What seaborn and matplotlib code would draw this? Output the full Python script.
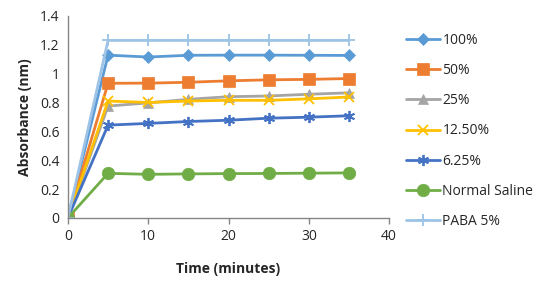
import pandas as pd
import seaborn as sns
import matplotlib.pyplot as plt
from matplotlib.ticker import FuncFormatter

# time points (minutes)
time = [0, 5, 10, 15, 20, 25, 30, 35]

# absorbance readings per concentration
abs_100 = [0, 1.128, 1.115, 1.127, 1.128, 1.128, 1.127, 1.126]
abs_50 = [0, 0.933, 0.934, 0.940, 0.950, 0.957, 0.960, 0.966]
abs_25 = [0, 0.775, 0.797, 0.822, 0.840, 0.845, 0.857, 0.867]
abs_12_5 = [0, 0.810, 0.800, 0.810, 0.815, 0.815, 0.825, 0.838]
abs_6_25 = [0, 0.643, 0.655, 0.668, 0.677, 0.691, 0.698, 0.708]
abs_saline = [0, 0.309, 0.302, 0.305, 0.307, 0.308, 0.310, 0.312]
abs_paba = [0, 1.230, 1.230, 1.230, 1.230, 1.230, 1.230, 1.230]

labels = ["100%", "50%", "25%", "12.50%", "6.25%", "Normal Saline", "PABA 5%"]
series = [abs_100, abs_50, abs_25, abs_12_5, abs_6_25, abs_saline, abs_paba]

colors = ["#5B9BD5", "#ED7D31", "#A5A5A5", "#FFC000", "#4472C4", "#70AD47", "#9DC3E6"]
markers = ["D", "s", "^", "x", (6, 2, 0), "o", "+"]
msizes = [6, 9, 7, 7, 8, 9, 9]

frames = []
for lab, vals in zip(labels, series):
    frames.append(pd.DataFrame({"time": time, "absorbance": vals, "series": lab}))
df = pd.concat(frames, ignore_index=True)

sns.set_style("white")
plt.rcParams["font.family"] = ["Open Sans", "DejaVu Sans"]

fig = plt.figure(figsize=(5.39, 2.89), dpi=100)
ax = fig.add_axes([0.126, 0.246, 0.596, 0.699])

for lab, col, mk, ms in zip(labels, colors, markers, msizes):
    sub = df[df["series"] == lab]
    thin = mk in ("x", "+") or isinstance(mk, tuple)
    sns.lineplot(data=sub, x="time", y="absorbance", ax=ax, color=col,
                 marker=mk, markersize=ms, linewidth=2, label=lab,
                 markeredgecolor=col, markeredgewidth=1.3 if thin else 0.5)

ax.set_xlim(0, 40)
ax.set_ylim(0, 1.4)
ax.set_xticks([0, 10, 20, 30, 40])
ax.set_yticks([0, 0.2, 0.4, 0.6, 0.8, 1.0, 1.2, 1.4])
ax.yaxis.set_major_formatter(FuncFormatter(lambda v, p: f"{v:g}"))
ax.tick_params(axis="x", length=4, width=1, color="#868686", labelsize=10, pad=4, direction="out", bottom=True)
ax.tick_params(axis="y", length=0, labelsize=10, pad=6)

for side in ["top", "right"]:
    ax.spines[side].set_visible(False)
for side in ["left", "bottom"]:
    ax.spines[side].set_color("#868686")
    ax.spines[side].set_linewidth(1)

ax.set_xlabel("Time (minutes)", fontsize=10, fontweight="bold", labelpad=13)
ax.set_ylabel("Absorbance (nm)", fontsize=10, fontweight="bold", labelpad=6)

ax.legend(loc="upper left", bbox_to_anchor=(1.036, 0.945), frameon=False,
          fontsize=10, labelspacing=1.1, handlelength=2.4, handletextpad=0.2,
          borderaxespad=0)

fig.savefig("out.png", dpi=100)
